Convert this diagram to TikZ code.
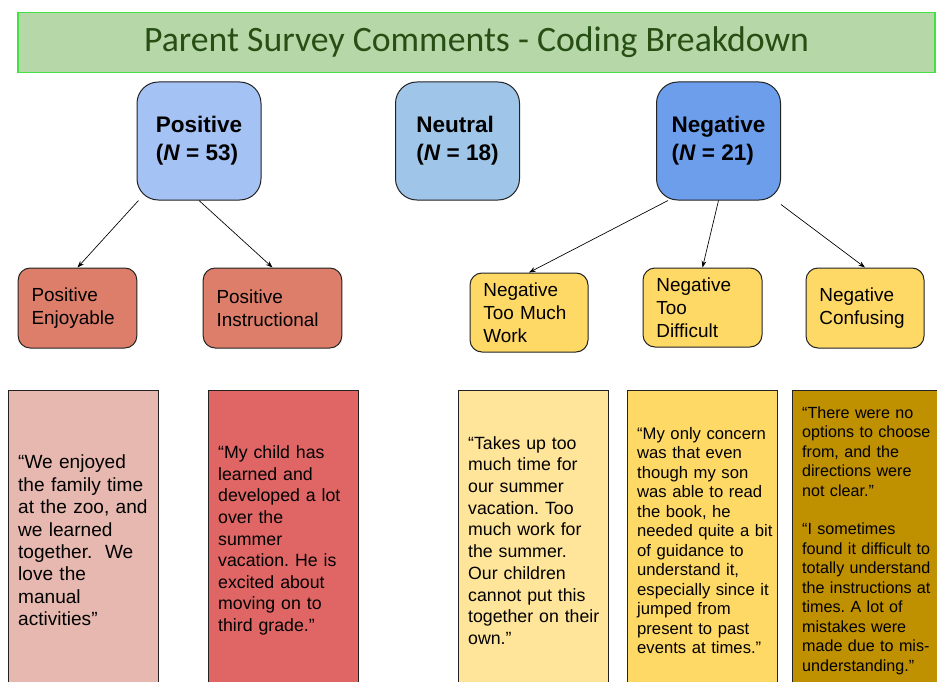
\documentclass[tikz,border=0pt]{standalone}
\usepackage{fontspec}
\setmainfont{Liberation Sans}
\newfontfamily\titlefont{Carlito}
\usepackage{xcolor}
\usetikzlibrary{arrows.meta}

\definecolor{titlefill}{HTML}{B6D7A8}
\definecolor{titleline}{HTML}{44E044}
\definecolor{titletext}{HTML}{274E13}
\definecolor{boxline}{HTML}{222222}
\definecolor{posblue}{HTML}{A4C2F4}
\definecolor{neublue}{HTML}{9FC5E8}
\definecolor{negblue}{HTML}{6D9EEB}
\definecolor{posred}{HTML}{DD7E6B}
\definecolor{negyellow}{HTML}{FFD966}
\definecolor{quotepink}{HTML}{E6B8AF}
\definecolor{quotered}{HTML}{E06666}
\definecolor{quotelight}{HTML}{FFE599}
\definecolor{quoteyellow}{HTML}{FFD966}
\definecolor{quotedark}{HTML}{BF9000}

\begin{document}
\frenchspacing
\begin{tikzpicture}[x=0.75pt,y=0.75pt,yscale=-1,xscale=1,
  topbox/.style={draw=boxline, line width=0.75pt, rounded corners=16pt, minimum width=93pt, minimum height=88.5pt, align=left, inner sep=0.75pt, font=\bfseries\fontsize{16.9}{21}\selectfont},
  codebox/.style={draw=boxline, line width=0.75pt, rounded corners=9pt, align=left, inner xsep=10pt, inner ysep=0.75pt, font=\fontsize{14.2}{17.3}\selectfont},
  quotebox/.style={draw=boxline, line width=0.75pt, anchor=north west, minimum height=225pt, text width=98pt, inner xsep=7.25pt, align=left},
  arr/.style={-{Stealth[length=5pt,width=3.6pt]}, line width=0.5pt}]
\useasboundingbox (0,0) rectangle (937,681);
\clip (0,0) rectangle (937,681);

% Title
\node[draw=titleline, line width=1pt, fill=titlefill, minimum width=687.75pt, minimum height=45.4pt, text=titletext, font=\titlefont\fontsize{26.8}{30}\selectfont] (title) at (476.5,42.5) {Parent Survey Comments - Coding Breakdown};

% Text Node
\node[topbox, fill=posblue] (pos) at (199,141) {Positive\\(\textit{N} = 53)};
% Text Node
\node[topbox, fill=neublue] (neu) at (457.5,141) {Neutral\\(\textit{N} = 18)};
% Text Node
\node[topbox, fill=negblue] (neg) at (718.5,141) {Negative\\(\textit{N} = 21)};

% Text Node
\node[codebox, fill=posred, text width=69pt, minimum height=60pt] (enj) at (77.5,308) {Positive\\Enjoyable};
% Text Node
\node[codebox, fill=posred, text width=84pt, minimum height=60pt] (ins) at (272.5,308) {Positive\\Instructional};
% Text Node
\node[codebox, fill=negyellow, text width=68.5pt, minimum height=59.25pt] (tmw) at (529,312.5) {Negative\\Too Much\\Work};
% Text Node
\node[codebox, fill=negyellow, text width=69.25pt, minimum height=59.25pt] (dif) at (702.5,307.5) {Negative\\Too\\Difficult};
% Text Node
\node[codebox, fill=negyellow, text width=68.5pt, minimum height=60pt] (con) at (865,308) {Negative\\Confusing};

%Straight Lines
\draw[arr] ([xshift=1.5pt]pos.south west) -- (enj.north);
\draw[arr] (pos.south) -- (ins.north);
\draw[arr] ([xshift=9pt]neg.south west) -- (tmw.north);
\draw[arr] (neg.south) -- (dif.north);
\draw[arr] ([yshift=3pt]neg.south east) -- (con.north);

% Text Node
\node[quotebox, fill=quotepink, font=\fontsize{14.3}{16.8}\selectfont] (qenj) at (8,390) {“We enjoyed\\the family time\\at the zoo, and\\we learned\\together.\ \ We\\love the\\manual\\activities”};
% Text Node
\node[quotebox, fill=quotered, font=\fontsize{13.3}{16.2}\selectfont] (qins) at (208,390) {“My child has\\learned and\\developed a lot\\over the\\summer\\vacation. He is\\excited about\\moving on to\\third grade.”};
% Text Node
\node[quotebox, fill=quotelight, font=\fontsize{13.3}{16.3}\selectfont] (qtmw) at (458,390) {“Takes up too\\much time for\\our summer\\vacation. Too\\much work for\\the summer.\\Our children\\cannot put this\\\mbox{together on their}\\own.”};
% Text Node
\node[quotebox, fill=quoteyellow, font=\fontsize{12.5}{14.6}\selectfont] (qdif) at (627,390) {“My only concern\\was that even\\though my son\\was able to read\\the book, he\\\mbox{needed quite a bit}\\of guidance to\\understand it,\\\mbox{especially since it}\\jumped from\\present to past\\\mbox{events at times.”}};
% Text Node
\node[quotebox, fill=quotedark, font=\fontsize{12.1}{14.6}\selectfont] (qcon) at (792,390) {“There were no\\\mbox{options to choose}\\from, and the\\directions were\\not clear.”\\[14.6pt]“I sometimes\\found it difficult to\\\mbox{totally understand}\\\mbox{the instructions at}\\times. A lot of\\mistakes were\\made due to mis-\\understanding.”};

\end{tikzpicture}
\end{document}
